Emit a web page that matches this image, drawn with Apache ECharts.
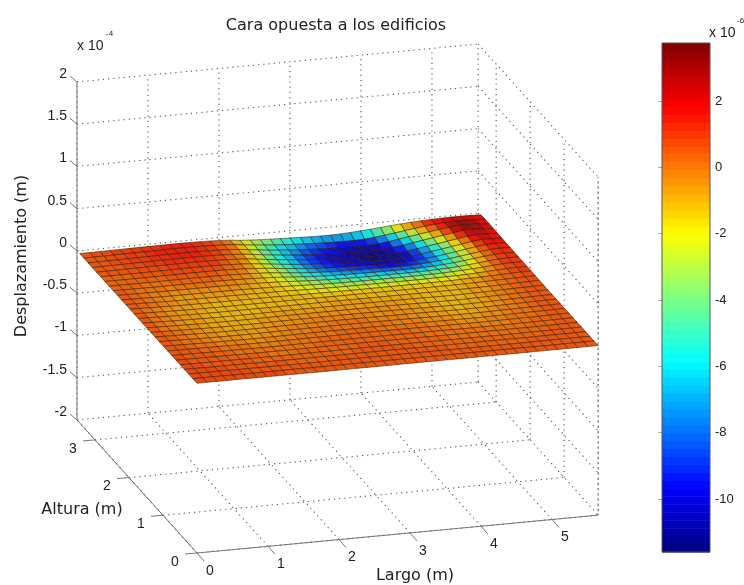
<!DOCTYPE html>
<html><head><meta charset="utf-8">
<style>html,body{margin:0;padding:0;background:#fff}#c{width:744px;height:585px}</style>
<script src="https://cdn.jsdelivr.net/npm/echarts@6/dist/echarts.min.js"></script>
</head><body><div id="c"></div>
<script>
// Axis ticks
const largoTicks = [0, 1, 2, 3, 4, 5];
const alturaTicks = [0, 1, 2, 3];
const despTicks = [-2, -1.5, -1, -0.5, 0, 0.5, 1, 1.5, 2];
const despLabels = ['-2', '-1.5', '-1', '-0.5', '0', '0.5', '1', '1.5', '2'];
const colorbarTicks = [-10, -8, -6, -4, -2, 0, 2];
const colorbarMin = -11.6, colorbarMax = 3.75;
const largoMax = 5.65, alturaMax = 3.53, surfLargo = 5.65, surfAltura = 3.45;

// Surface heights in units of 1e-7 m. First row is the far edge (Altura max), last row the near edge.
const surfaceRows = [
[5,6,7,8,9,10,11,12,13,14,14,13,11,8,3,-5,-18,-26,-33,-38,-42,-46,-50,-54,-56,-57,-54,-48,-40,-32,-22,-12,-3,5,12,17,20,22,22,20,16],
[5,6,7,8,10,11,12,13,15,16,16,15,13,9,4,-3,-18,-30,-42,-52,-60,-67,-73,-79,-84,-87,-89,-88,-84,-74,-60,-44,-28,-13,2,14,22,28,28,25,19],
[4,5,6,7,8,10,11,13,14,15,15,14,12,8,3,-5,-20,-34,-47,-58,-68,-76,-83,-90,-95,-100,-103,-105,-103,-95,-80,-62,-44,-26,-10,6,20,36,33,27,20],
[4,5,6,7,8,9,11,12,13,14,14,13,11,7,2,-6,-20,-36,-50,-62,-73,-83,-90,-97,-103,-107,-111,-114,-114,-108,-95,-78,-60,-42,-24,-6,10,31,30,25,18],
[4,4,5,6,7,8,9,10,11,12,12,11,9,5,0,-8,-22,-36,-50,-62,-74,-84,-92,-99,-104,-108,-112,-115,-116,-114,-108,-94,-76,-58,-40,-22,-5,14,24,22,16],
[4,4,4,5,5,6,7,8,9,10,10,9,7,3,-2,-10,-22,-36,-50,-62,-73,-83,-91,-97,-101,-105,-109,-112,-114,-113,-109,-98,-84,-66,-48,-30,-12,6,20,19,15],
[4,3,3,3,3,4,5,6,7,7,7,6,4,1,-4,-11,-20,-32,-45,-57,-68,-78,-85,-90,-94,-97,-100,-103,-105,-105,-102,-95,-84,-70,-54,-37,-18,0,14,17,14],
[4,3,2,2,1,2,3,3,4,4,4,3,1,-2,-6,-12,-19,-29,-41,-52,-61,-68,-74,-78,-81,-84,-86,-88,-90,-90,-88,-83,-75,-64,-50,-35,-18,-2,11,15,13],
[5,3,2,1,0,0,0,1,1,1,1,0,-2,-4,-8,-13,-18,-26,-36,-45,-52,-58,-62,-65,-67,-69,-70,-71,-72,-73,-72,-69,-63,-55,-44,-32,-17,-3,9,13,12],
[5,3,1,0,-1,-2,-2,-2,-2,-2,-2,-3,-4,-7,-10,-14,-17,-23,-30,-36,-42,-46,-49,-52,-53,-54,-55,-55,-55,-55,-54,-52,-48,-43,-36,-26,-14,-2,8,11,11],
[5,3,1,-1,-3,-5,-5,-6,-6,-6,-6,-7,-8,-10,-12,-14,-16,-20,-25,-29,-33,-35,-37,-38,-39,-40,-40,-40,-40,-40,-39,-38,-35,-31,-26,-19,-10,-1,7,10,11],
[5,3,1,-2,-4,-6,-7,-8,-8,-9,-9,-9,-10,-11,-12,-13,-14,-17,-20,-22,-24,-26,-27,-27,-28,-28,-28,-28,-28,-28,-27,-26,-24,-22,-18,-13,-7,0,6,9,10],
[5,3,0,-2,-5,-7,-8,-9,-10,-10,-10,-10,-11,-11,-11,-12,-13,-14,-15,-16,-17,-18,-18,-18,-18,-18,-18,-18,-18,-18,-17,-16,-15,-12,-9,-6,-2,2,5,8,9],
[5,3,0,-3,-5,-7,-9,-10,-11,-11,-11,-11,-11,-11,-11,-11,-11,-11,-11,-11,-12,-12,-12,-12,-12,-12,-12,-12,-12,-11,-11,-11,-10,-9,-7,-4,-1,2,4,7,8],
[5,3,0,-3,-5,-7,-9,-10,-11,-11,-11,-11,-11,-11,-11,-11,-10,-10,-10,-9,-9,-9,-9,-9,-10,-10,-10,-10,-11,-11,-11,-11,-10,-9,-7,-5,-2,1,4,6,7],
[5,3,0,-3,-5,-7,-9,-10,-11,-11,-11,-10,-10,-9,-8,-8,-7,-7,-7,-7,-7,-7,-7,-7,-7,-8,-8,-9,-10,-11,-12,-12,-11,-9,-7,-4,-2,1,3,5,7],
[5,3,0,-3,-5,-7,-9,-10,-10,-10,-10,-9,-8,-7,-6,-6,-6,-5,-5,-5,-5,-5,-5,-5,-6,-6,-7,-9,-10,-11,-12,-12,-11,-9,-6,-4,-2,1,3,5,6],
[5,3,0,-2,-4,-6,-8,-9,-9,-9,-9,-8,-7,-5,-5,-4,-4,-3,-3,-3,-3,-3,-4,-4,-5,-5,-6,-8,-9,-10,-11,-11,-10,-8,-6,-3,-1,1,3,5,6],
[5,4,1,-1,-3,-5,-7,-8,-8,-8,-8,-7,-6,-4,-4,-3,-2,-2,-1,-1,-1,-2,-3,-3,-4,-4,-5,-6,-7,-9,-10,-10,-9,-7,-5,-3,-1,1,3,5,6],
[6,4,2,0,-2,-4,-5,-6,-7,-7,-7,-5,-4,-3,-2,-1,-1,0,0,0,0,0,-1,-1,-2,-3,-4,-5,-6,-7,-8,-8,-7,-6,-3,-2,0,2,3,5,6],
[6,5,3,1,-1,-2,-3,-4,-5,-5,-5,-4,-3,-1,-1,0,0,1,1,1,1,1,0,0,-1,-1,-2,-3,-4,-5,-6,-6,-5,-4,-2,0,1,2,3,5,6],
[6,5,4,3,2,1,0,-1,-2,-2,-2,-1,0,0,1,1,2,2,3,3,3,3,2,2,1,1,0,-1,-2,-2,-3,-3,-2,-2,-1,0,1,2,4,5,6],
[7,6,5,4,3,2,1,0,0,-1,-1,0,0,1,1,2,2,3,3,3,3,3,3,2,2,1,1,0,0,-1,-1,-1,-1,-1,0,1,2,3,4,5,6],
[7,6,5,5,4,3,2,2,1,1,1,1,1,2,2,2,3,3,4,4,4,4,3,3,3,2,2,1,1,1,0,0,0,1,1,2,2,3,4,5,6],
[7,7,6,5,5,4,4,3,3,2,2,2,2,3,3,3,3,4,4,4,4,4,4,4,3,3,3,2,2,2,2,1,1,2,2,3,3,4,5,5,6],
[8,7,7,6,6,5,5,4,4,4,3,3,3,3,4,4,4,4,5,5,5,5,5,4,4,4,4,3,3,3,3,3,3,3,3,4,4,5,5,6,6],
[8,8,7,7,7,6,6,5,5,5,5,4,4,4,4,5,5,5,5,5,5,5,5,5,5,5,4,4,4,4,4,4,4,4,4,5,5,5,6,6,6],
[8,8,8,8,7,7,7,6,6,6,6,5,5,5,5,5,5,6,6,6,6,6,6,6,5,5,5,5,5,5,5,5,5,5,5,5,5,6,6,6,6],
[9,9,8,8,8,8,7,7,7,7,6,6,6,6,6,6,6,6,6,6,6,6,6,6,6,6,6,6,6,6,6,6,6,6,6,6,6,6,6,6,7]
];

// View of the MATLAB-style 3D box: Largo, Altura, Desplazamiento (1e-4 m) -> page plane
function project(x, y, z) {
  return [197 + 71 * x - 34 * y, 384 - 6.7 * x - 37.7 * y - 84.5 * z];
}
function jetRGB(f) {
  const lv = Math.min(63, Math.max(0, Math.floor(f * 64)));
  const t = (lv + 0.5) / 64;
  const c = v => 255 * Math.max(0, Math.min(1, v));
  return [c(1.5 - Math.abs(4 * t - 3)), c(1.5 - Math.abs(4 * t - 2)), c(1.5 - Math.abs(4 * t - 1))];
}
const rgb = a => `rgb(${a.map(Math.round).join(',')})`;
const jet = f => rgb(jetRGB(f));
// Surface faces look slightly muted against the colorbar
const colorOf = v => rgb(jetRGB((v - colorbarMin) / (colorbarMax - colorbarMin)).map(k => (k * 0.88 + 128 * 0.12) * 0.95));

const zLo = despTicks[0], zHi = despTicks[despTicks.length - 1];
const seg = (a, b) => [...project(...a), ...project(...b)];

// Dotted box grid
const gridSegs = [];
despTicks.forEach(z => {
  gridSegs.push(seg([0, alturaMax, z], [largoMax, alturaMax, z]));
  gridSegs.push(seg([largoMax, alturaMax, z], [largoMax, 0, z]));
});
largoTicks.forEach(x => {
  gridSegs.push(seg([x, alturaMax, zLo], [x, alturaMax, zHi]));
  gridSegs.push(seg([x, 0, zLo], [x, alturaMax, zLo]));
});
alturaTicks.forEach(y => {
  gridSegs.push(seg([largoMax, y, zLo], [largoMax, y, zHi]));
  gridSegs.push(seg([0, y, zLo], [largoMax, y, zLo]));
});
gridSegs.push(seg([largoMax, 0, zHi], [largoMax, 0, zLo]));
gridSegs.push(seg([largoMax, alturaMax, zLo], [largoMax, alturaMax, zHi]));

// Solid axes and tick marks
const axisSegs = [
  seg([0, alturaMax, zLo], [0, alturaMax, zHi]),
  seg([0, alturaMax, zLo], [0, 0, zLo]),
  seg([0, 0, zLo], [largoMax, 0, zLo])
];
const off = (p, dx, dy) => [p[0], p[1], p[0] + dx, p[1] + dy];
despTicks.forEach(z => axisSegs.push(off(project(0, alturaMax, z), -7, -6)));
alturaTicks.forEach(y => axisSegs.push(off(project(0, y, zLo), -12, 1)));
largoTicks.forEach(x => axisSegs.push(off(project(x, 0, zLo), 7, 8)));

// Text anchored to projected positions
const texts = [];
const addText = (p, dx, dy, s, align) => texts.push([p[0] + dx, p[1] + dy, s, align]);
despTicks.forEach((z, i) => addText(project(0, alturaMax, z), -10, -8, despLabels[i], 'right'));
alturaTicks.forEach(y => addText(project(0, y, zLo), -22, 9, String(y), 'center'));
largoTicks.forEach(x => addText(project(x, 0, zLo), 13, 18, String(x), 'center'));

// Surface quads, far to near
const nRows = surfaceRows.length, nCols = surfaceRows[0].length;
const cells = [];
for (let r = 0; r < nRows - 1; r++) {
  for (let c = 0; c < nCols - 1; c++) cells.push([r, c]);
}
const nodeXYZ = (r, c) => project(
  c / (nCols - 1) * surfLargo,
  (nRows - 1 - r) / (nRows - 1) * surfAltura,
  surfaceRows[r][c] / 1000
);

function lineSeries(segs, style, z) {
  return {
    type: 'custom', coordinateSystem: 'cartesian2d', xAxisIndex: 0, yAxisIndex: 0, silent: true, z,
    data: segs, clip: false, animation: false, encode: { x: 0, y: 1 },
    renderItem: (p, api) => {
      const a = api.coord([api.value(0), api.value(1)]), b = api.coord([api.value(2), api.value(3)]);
      return { type: 'line', shape: { x1: a[0], y1: a[1], x2: b[0], y2: b[1] }, style };
    }
  };
}
const levels = [];
for (let i = 0; i < 64; i++) levels.push(i);

const chart = echarts.init(document.getElementById('c'), null, { renderer: 'canvas' });
chart.setOption({
  animation: false,
  backgroundColor: '#fff',
  title: {
    text: 'Cara opuesta a los edificios', left: 331, top: 13, textAlign: 'center',
    textStyle: { fontFamily: 'DejaVu Sans', fontWeight: 'normal', fontSize: 16, color: '#222' }
  },
  grid: [
    { left: 0, top: 0, width: 744, height: 585, show: false },
    { left: 662, top: 43, width: 48, height: 509, show: true, borderColor: '#555', borderWidth: 1, backgroundColor: 'transparent', z: 5 }
  ],
  xAxis: [
    { type: 'value', min: 0, max: 744, show: false, gridIndex: 0 },
    { type: 'value', min: 0, max: 1, show: false, gridIndex: 1 }
  ],
  yAxis: [
    { type: 'value', min: 0, max: 585, inverse: true, show: false, gridIndex: 0 },
    {
      type: 'value', min: colorbarMin, max: colorbarMax, gridIndex: 1, position: 'right',
      splitLine: { show: false }, axisLine: { show: false },
      axisTick: { show: true, inside: true, length: 4, customValues: colorbarTicks, lineStyle: { color: 'rgba(60,20,10,.35)' } },
      axisLabel: { show: true, customValues: colorbarTicks, margin: 5, fontFamily: 'Liberation Sans', fontSize: 13, color: '#222' }
    }
  ],
  series: [
    lineSeries(gridSegs, { stroke: '#555', lineWidth: 1.1, lineDash: [1.2, 4] }, 1),
    lineSeries(axisSegs, { stroke: '#777', lineWidth: 1 }, 2),
    {
      type: 'custom', coordinateSystem: 'cartesian2d', xAxisIndex: 0, yAxisIndex: 0, silent: true, z: 3,
      data: cells, clip: false, animation: false, progressive: 0, encode: { x: 0, y: 1 },
      renderItem: (p, api) => {
        const r = api.value(0), c = api.value(1);
        const pts = [nodeXYZ(r, c), nodeXYZ(r, c + 1), nodeXYZ(r + 1, c + 1), nodeXYZ(r + 1, c)].map(q => api.coord(q));
        const v = (surfaceRows[r][c] + surfaceRows[r][c + 1] + surfaceRows[r + 1][c] + surfaceRows[r + 1][c + 1]) / 40;
        return { type: 'polygon', shape: { points: pts }, style: { fill: colorOf(v), stroke: 'rgba(45,12,0,.7)', lineWidth: 0.7 } };
      }
    },
    {
      type: 'custom', coordinateSystem: 'cartesian2d', xAxisIndex: 0, yAxisIndex: 0, silent: true, z: 4,
      data: texts, clip: false, animation: false, encode: { x: 0, y: 1 },
      renderItem: (p, api) => {
        const q = api.coord([api.value(0), api.value(1)]);
        return { type: 'text', x: q[0], y: q[1], style: { text: texts[p.dataIndex][2], textAlign: texts[p.dataIndex][3], textVerticalAlign: 'middle', fontFamily: 'Liberation Sans', fontSize: 14, fill: '#222' } };
      }
    },
    {
      type: 'custom', coordinateSystem: 'cartesian2d', xAxisIndex: 1, yAxisIndex: 1, silent: true, z: 4,
      data: levels, clip: false, animation: false, encode: { y: 0 },
      renderItem: (p, api) => {
        const i = p.dataIndex, step = (colorbarMax - colorbarMin) / 64;
        const a = api.coord([0, colorbarMin + i * step]), b = api.coord([1, colorbarMin + (i + 1) * step]);
        return { type: 'rect', shape: { x: a[0], y: b[1], width: b[0] - a[0], height: a[1] - b[1] + 0.5 }, style: { fill: jet((i + 0.5) / 64) } };
      }
    }
  ],
  graphic: [
    { type: 'text', x: 22, y: 256, rotation: Math.PI / 2, style: { text: 'Desplazamiento (m)', textAlign: 'center', textVerticalAlign: 'middle', fontFamily: 'DejaVu Sans', fontSize: 16, fill: '#222' } },
    { type: 'text', x: 82, y: 510, style: { text: 'Altura (m)', textAlign: 'center', textVerticalAlign: 'middle', fontFamily: 'DejaVu Sans', fontSize: 16, fill: '#222' } },
    { type: 'text', x: 415, y: 576, style: { text: 'Largo (m)', textAlign: 'center', textVerticalAlign: 'middle', fontFamily: 'DejaVu Sans', fontSize: 16, fill: '#222' } },
    { type: 'text', x: 77, y: 46, style: { text: 'x 10', textVerticalAlign: 'middle', fontFamily: 'Liberation Sans', fontSize: 14, fill: '#222' } },
    { type: 'text', x: 106, y: 34, style: { text: '-4', textVerticalAlign: 'middle', fontFamily: 'Liberation Sans', fontSize: 8, fill: '#222' } },
    { type: 'text', x: 709, y: 33, style: { text: 'x 10', textVerticalAlign: 'middle', fontFamily: 'Liberation Sans', fontSize: 14, fill: '#222' } },
    { type: 'text', x: 737, y: 21, style: { text: '-6', textVerticalAlign: 'middle', fontFamily: 'Liberation Sans', fontSize: 8, fill: '#222' } }
  ]
});
</script></body></html>
